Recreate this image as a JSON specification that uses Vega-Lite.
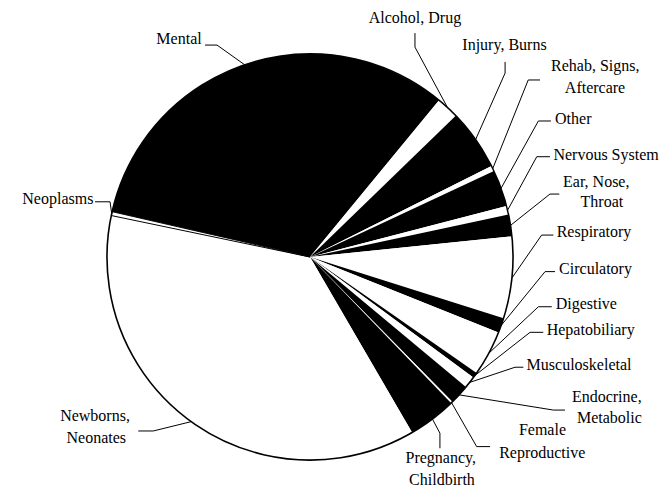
{
  "$schema": "https://vega.github.io/schema/vega-lite/v6.json",
  "width": 667,
  "height": 491,
  "autosize": "none",
  "padding": 0,
  "background": "white",
  "view": {"stroke": null},
  "config": {"text": {"font": "Liberation Serif", "fontSize": 16, "color": "black"}},
  "datasets": {
    "slices": [
      {"category": "Mental", "share": 32.39},
      {"category": "Alcohol, Drug", "share": 1.78},
      {"category": "Injury, Burns", "share": 4.86},
      {"category": "Rehab, Signs, Aftercare", "share": 0.44},
      {"category": "Other", "share": 2.92},
      {"category": "Nervous System", "share": 0.67},
      {"category": "Ear, Nose, Throat", "share": 1.75},
      {"category": "Respiratory", "share": 6.5},
      {"category": "Circulatory", "share": 1.19},
      {"category": "Digestive", "share": 3.61},
      {"category": "Hepatobiliary", "share": 0.44},
      {"category": "Musculoskeletal", "share": 0.94},
      {"category": "Endocrine, Metabolic", "share": 1.58},
      {"category": "Female Reproductive", "share": 0.14},
      {"category": "Pregnancy, Childbirth", "share": 3.83},
      {"category": "Newborns, Neonates", "share": 36.67},
      {"category": "Neoplasms", "share": 0.31}
    ],
    "leaders": [
      {"category": "Mental", "x": -0.322, "y": 0.947},
      {"category": "Mental", "x": -0.458, "y": 1.044},
      {"category": "Mental", "x": -0.517, "y": 1.044},
      {"category": "Alcohol, Drug", "x": 0.678, "y": 0.735},
      {"category": "Alcohol, Drug", "x": 0.517, "y": 1.034},
      {"category": "Alcohol, Drug", "x": 0.517, "y": 1.103},
      {"category": "Injury, Burns", "x": 0.816, "y": 0.579},
      {"category": "Injury, Burns", "x": 0.961, "y": 0.906},
      {"category": "Injury, Burns", "x": 0.961, "y": 0.961},
      {"category": "Rehab, Signs, Aftercare", "x": 0.9, "y": 0.435},
      {"category": "Rehab, Signs, Aftercare", "x": 1.075, "y": 0.872},
      {"category": "Rehab, Signs, Aftercare", "x": 1.133, "y": 0.872},
      {"category": "Other", "x": 0.941, "y": 0.338},
      {"category": "Other", "x": 1.125, "y": 0.67},
      {"category": "Other", "x": 1.187, "y": 0.67},
      {"category": "Nervous System", "x": 0.973, "y": 0.23},
      {"category": "Nervous System", "x": 1.117, "y": 0.494},
      {"category": "Nervous System", "x": 1.182, "y": 0.494},
      {"category": "Ear, Nose, Throat", "x": 0.988, "y": 0.156},
      {"category": "Ear, Nose, Throat", "x": 1.182, "y": 0.31},
      {"category": "Ear, Nose, Throat", "x": 1.228, "y": 0.31},
      {"category": "Respiratory", "x": 0.995, "y": -0.103},
      {"category": "Respiratory", "x": 1.141, "y": 0.108},
      {"category": "Respiratory", "x": 1.199, "y": 0.108},
      {"category": "Circulatory", "x": 0.941, "y": -0.338},
      {"category": "Circulatory", "x": 1.158, "y": -0.072},
      {"category": "Circulatory", "x": 1.207, "y": -0.072},
      {"category": "Digestive", "x": 0.88, "y": -0.475},
      {"category": "Digestive", "x": 1.125, "y": -0.245},
      {"category": "Digestive", "x": 1.191, "y": -0.245},
      {"category": "Hepatobiliary", "x": 0.812, "y": -0.584},
      {"category": "Hepatobiliary", "x": 1.084, "y": -0.371},
      {"category": "Hepatobiliary", "x": 1.149, "y": -0.371},
      {"category": "Musculoskeletal", "x": 0.786, "y": -0.618},
      {"category": "Musculoskeletal", "x": 1.01, "y": -0.543},
      {"category": "Musculoskeletal", "x": 1.051, "y": -0.543},
      {"category": "Endocrine, Metabolic", "x": 0.734, "y": -0.679},
      {"category": "Endocrine, Metabolic", "x": 1.199, "y": -0.754},
      {"category": "Endocrine, Metabolic", "x": 1.256, "y": -0.754},
      {"category": "Female Reproductive", "x": 0.697, "y": -0.717},
      {"category": "Female Reproductive", "x": 0.821, "y": -0.934},
      {"category": "Female Reproductive", "x": 0.887, "y": -0.934},
      {"category": "Pregnancy, Childbirth", "x": 0.603, "y": -0.798},
      {"category": "Pregnancy, Childbirth", "x": 0.64, "y": -0.868},
      {"category": "Pregnancy, Childbirth", "x": 0.64, "y": -0.942},
      {"category": "Newborns, Neonates", "x": -0.585, "y": -0.811},
      {"category": "Newborns, Neonates", "x": -0.772, "y": -0.857},
      {"category": "Newborns, Neonates", "x": -0.846, "y": -0.857},
      {"category": "Neoplasms", "x": -0.977, "y": 0.214},
      {"category": "Neoplasms", "x": -0.985, "y": 0.272},
      {"category": "Neoplasms", "x": -1.059, "y": 0.272}
    ],
    "labels": [
      {"category": "Mental", "text": "Mental", "x": -0.5335, "y": 1.0478},
      {"category": "Alcohol, Drug", "text": "Alcohol, Drug", "x": 0.517, "y": 1.151},
      {"category": "Injury, Burns", "text": "Injury, Burns", "x": 0.958, "y": 1.02},
      {"category": "Rehab, Signs, Aftercare", "text": "Rehab, Signs,", "x": 1.405, "y": 0.918},
      {"category": "Rehab, Signs, Aftercare", "text": "Aftercare", "x": 1.404, "y": 0.809},
      {"category": "Other", "text": "Other", "x": 1.207, "y": 0.655},
      {"category": "Nervous System", "text": "Nervous System", "x": 1.199, "y": 0.478},
      {"category": "Ear, Nose, Throat", "text": "Ear, Nose,", "x": 1.41, "y": 0.346},
      {"category": "Ear, Nose, Throat", "text": "Throat", "x": 1.438, "y": 0.245},
      {"category": "Respiratory", "text": "Respiratory", "x": 1.215, "y": 0.097},
      {"category": "Circulatory", "text": "Circulatory", "x": 1.227, "y": -0.084},
      {"category": "Digestive", "text": "Digestive", "x": 1.21, "y": -0.258},
      {"category": "Hepatobiliary", "text": "Hepatobiliary", "x": 1.166, "y": -0.384},
      {"category": "Musculoskeletal", "text": "Musculoskeletal", "x": 1.067, "y": -0.557},
      {"category": "Endocrine, Metabolic", "text": "Endocrine,", "x": 1.462, "y": -0.713},
      {"category": "Endocrine, Metabolic", "text": "Metabolic", "x": 1.475, "y": -0.816},
      {"category": "Female Reproductive", "text": "Female", "x": 1.145, "y": -0.877},
      {"category": "Female Reproductive", "text": "Reproductive", "x": 1.144, "y": -0.992},
      {"category": "Pregnancy, Childbirth", "text": "Pregnancy,", "x": 0.644, "y": -1.016},
      {"category": "Pregnancy, Childbirth", "text": "Childbirth", "x": 0.65, "y": -1.123},
      {"category": "Newborns, Neonates", "text": "Newborns,", "x": -1.059, "y": -0.806},
      {"category": "Newborns, Neonates", "text": "Neonates", "x": -1.053, "y": -0.918},
      {"category": "Neoplasms", "text": "Neoplasms", "x": -1.067, "y": 0.261}
    ]
  },
  "layer": [
    {
      "data": {"name": "slices"},
      "transform": [{"stack": "share", "groupby": [], "as": ["t0", "t1"]}],
      "mark": {"type": "arc", "outerRadius": 203, "strokeWidth": 0},
      "encoding": {
        "x": {"datum": 0, "type": "quantitative", "scale": {"domain": [-1.5271, 1.7586], "zero": false, "nice": false}, "axis": null},
        "y": {"datum": 0, "type": "quantitative", "scale": {"domain": [-1.1527, 1.266], "zero": false, "nice": false}, "axis": null},
        "theta": {"field": "t0", "type": "quantitative", "scale": {"range": [4.9375, 11.2207]}},
        "theta2": {"field": "t1"},
        "color": {
          "field": "category",
          "type": "nominal",
          "legend": null,
          "scale": {
            "domain": ["Mental", "Alcohol, Drug", "Injury, Burns", "Rehab, Signs, Aftercare", "Other", "Nervous System", "Ear, Nose, Throat", "Respiratory", "Circulatory", "Digestive", "Hepatobiliary", "Musculoskeletal", "Endocrine, Metabolic", "Female Reproductive", "Pregnancy, Childbirth", "Newborns, Neonates", "Neoplasms"],
            "range": ["black", "white", "black", "white", "black", "white", "black", "white", "black", "white", "black", "white", "black", "white", "black", "white", "white"]
          }
        }
      }
    },
    {
      "data": {"name": "slices"},
      "transform": [
        {"stack": "share", "groupby": [], "as": ["t0", "t1"]},
        {"filter": "datum.category === 'Neoplasms'"}
      ],
      "mark": {"type": "arc", "outerRadius": 203, "fill": "white", "stroke": "black", "strokeWidth": 1},
      "encoding": {
        "x": {"datum": 0, "type": "quantitative"},
        "y": {"datum": 0, "type": "quantitative"},
        "theta": {"field": "t0", "type": "quantitative"},
        "theta2": {"field": "t1"}
      }
    },
    {
      "data": {"name": "slices"},
      "transform": [{"aggregate": [{"op": "sum", "field": "share", "as": "total"}]}],
      "mark": {"type": "arc", "outerRadius": 203, "fill": "transparent", "stroke": "black", "strokeWidth": 1.6},
      "encoding": {
        "x": {"datum": 0, "type": "quantitative"},
        "y": {"datum": 0, "type": "quantitative"},
        "theta": {"field": "total", "type": "quantitative"}
      }
    },
    {
      "data": {"name": "leaders"},
      "mark": {"type": "line", "color": "black", "strokeWidth": 1},
      "encoding": {
        "x": {"field": "x", "type": "quantitative"},
        "y": {"field": "y", "type": "quantitative"},
        "detail": {"field": "category"},
        "order": {"value": null}
      }
    },
    {
      "data": {"name": "labels"},
      "transform": [{"filter": {"field": "category", "oneOf": ["Mental", "Neoplasms"]}}],
      "mark": {"type": "text", "align": "right", "baseline": "alphabetic"},
      "encoding": {
        "x": {"field": "x", "type": "quantitative"},
        "y": {"field": "y", "type": "quantitative"},
        "text": {"field": "text"}
      }
    },
    {
      "data": {"name": "labels"},
      "transform": [{"filter": {"field": "category", "oneOf": ["Other", "Nervous System", "Respiratory", "Circulatory", "Digestive", "Hepatobiliary", "Musculoskeletal"]}}],
      "mark": {"type": "text", "align": "left", "baseline": "alphabetic"},
      "encoding": {
        "x": {"field": "x", "type": "quantitative"},
        "y": {"field": "y", "type": "quantitative"},
        "text": {"field": "text"}
      }
    },
    {
      "data": {"name": "labels"},
      "transform": [{"filter": {"not": {"field": "category", "oneOf": ["Mental", "Neoplasms", "Other", "Nervous System", "Respiratory", "Circulatory", "Digestive", "Hepatobiliary", "Musculoskeletal"]}}}],
      "mark": {"type": "text", "align": "center", "baseline": "alphabetic"},
      "encoding": {
        "x": {"field": "x", "type": "quantitative"},
        "y": {"field": "y", "type": "quantitative"},
        "text": {"field": "text"}
      }
    }
  ]
}
